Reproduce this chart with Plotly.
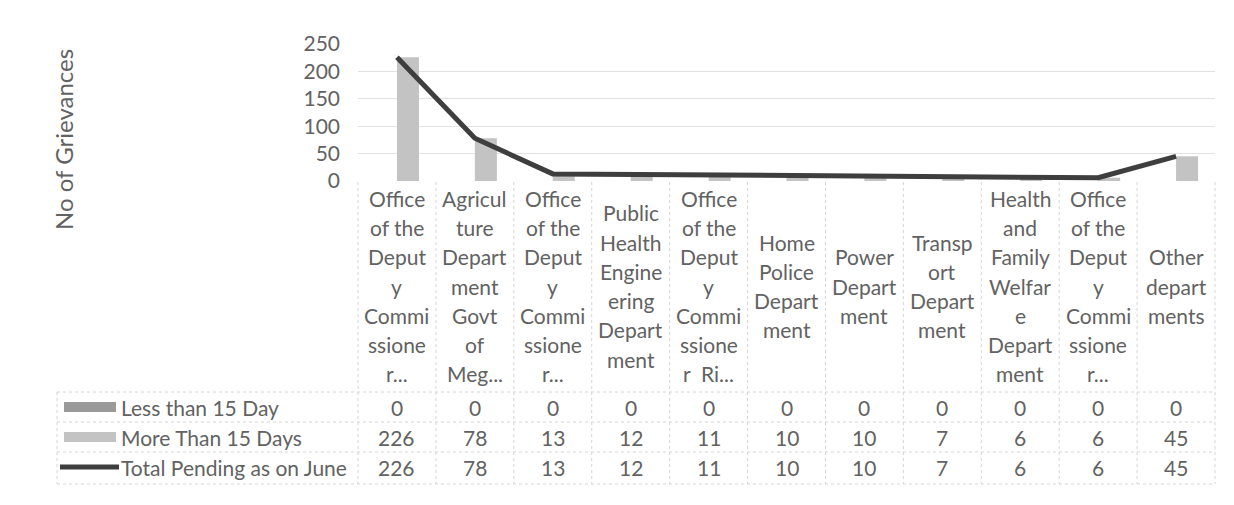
import plotly.graph_objects as go

# ---------------- data ----------------
category_labels = [
    "Office|of the|Deput|y|Commi|ssione|r...",
    "Agricul|ture|Depart|ment|Govt|of|Meg...",
    "Office|of the|Deput|y|Commi|ssione|r...",
    "Public|Health|Engine|ering|Depart|ment",
    "Office|of the|Deput|y|Commi|ssione|r  Ri...",
    "Home|Police|Depart|ment",
    "Power|Depart|ment",
    "Transp|ort|Depart|ment",
    "Health|and|Family|Welfar|e|Depart|ment",
    "Office|of the|Deput|y|Commi|ssione|r...",
    "Other|depart|ments",
]
series_names = ["Less than 15 Day", "More Than 15 Days", "Total Pending as on June"]
less_than_15 = [0, 0, 0, 0, 0, 0, 0, 0, 0, 0, 0]
more_than_15 = [226, 78, 13, 12, 11, 10, 10, 7, 6, 6, 45]
total_pending = [226, 78, 13, 12, 11, 10, 10, 7, 6, 6, 45]
y_ticks = [0, 50, 100, 150, 200, 250]
y_title = "No of Grievances"

# ---------------- layout helpers ----------------
OFF = 8                                      # page body margin
W, H = 1234 - OFF, 505 - OFF
PL, PR, PT, PB = 358, 1215, 44, 181          # plot area in screen pixels
PW, PH = PR - PL, PB - PT
FONT = "Lato"
FS = 21
TXT = "#626262"
GRID = "#e2e2e2"
TBL = "#d4d4d4"


def xp(x):
    return (x - PL) / PW


def yp(y):
    return (PB - y) / PH


n = len(category_labels)
xs = list(range(n))

fig = go.Figure()
fig.add_trace(go.Bar(x=xs, y=less_than_15, name=series_names[0],
                     marker=dict(color="#9a9a9a", line=dict(width=0))))
fig.add_trace(go.Bar(x=xs, y=more_than_15, name=series_names[1],
                     marker=dict(color="#c3c3c3", line=dict(width=0))))
fig.add_trace(go.Scatter(x=xs, y=total_pending, name=series_names[2], mode="lines",
                         line=dict(color="#3e3e3e", width=5)))

annotations = []
shapes = []

# category labels (one annotation per wrapped line)
LINE_H = 29.3
LABEL_CENTER = 286
for i, lab in enumerate(category_labels):
    lines = lab.split("|")
    k = len(lines)
    for j, t in enumerate(lines):
        ypix = LABEL_CENTER + (j - (k - 1) / 2) * LINE_H
        annotations.append(dict(x=i, xref="x", y=yp(ypix), yref="paper", text=t,
                                showarrow=False, xanchor="center", yanchor="middle",
                                font=dict(family=FONT, size=FS, color=TXT)))

# data table rows
row_y = [407, 437, 467]
row_vals = [less_than_15, more_than_15, total_pending]
for r, (ry, vals, nm) in enumerate(zip(row_y, row_vals, series_names)):
    for i, v in enumerate(vals):
        annotations.append(dict(x=i, xref="x", y=yp(ry), yref="paper", text=str(v),
                                showarrow=False, xanchor="center", yanchor="middle",
                                font=dict(family=FONT, size=FS, color=TXT)))
    annotations.append(dict(x=xp(119), xref="paper", y=yp(ry), yref="paper", text=nm,
                            showarrow=False, xanchor="left", yanchor="middle",
                            font=dict(family=FONT, size=FS, color=TXT)))

# legend keys
shapes.append(dict(type="rect", xref="paper", yref="paper", x0=xp(64), x1=xp(116),
                   y0=yp(412), y1=yp(402), fillcolor="#9a9a9a", line=dict(width=0)))
shapes.append(dict(type="rect", xref="paper", yref="paper", x0=xp(64), x1=xp(116),
                   y0=yp(442), y1=yp(432), fillcolor="#c3c3c3", line=dict(width=0)))
shapes.append(dict(type="line", xref="paper", yref="paper", x0=xp(60), x1=xp(119),
                   y0=yp(467), y1=yp(467), line=dict(color="#3e3e3e", width=5)))

# table grid lines
for hy in [392, 422, 452, 484]:
    shapes.append(dict(type="line", xref="paper", yref="paper", x0=xp(57), x1=1,
                       y0=yp(hy), y1=yp(hy), line=dict(color=TBL, width=1, dash="dot")))
for k in range(n + 1):
    shapes.append(dict(type="line", xref="paper", yref="paper", x0=k / n, x1=k / n,
                       y0=yp(182), y1=yp(484), line=dict(color=TBL, width=1, dash="dot")))
shapes.append(dict(type="line", xref="paper", yref="paper", x0=xp(57), x1=xp(57),
                   y0=yp(392), y1=yp(484), line=dict(color=TBL, width=1, dash="dot")))

# y-axis title
annotations.append(dict(x=xp(63), xref="paper", y=yp(140), yref="paper", text=y_title,
                        textangle=-90, showarrow=False, xanchor="center", yanchor="middle",
                        font=dict(family=FONT, size=24, color=TXT)))

fig.update_layout(
    width=W, height=H,
    margin=dict(l=PL - OFF, r=W + OFF - PR, t=PT - OFF, b=H + OFF - PB, pad=0),
    paper_bgcolor="white", plot_bgcolor="white",
    showlegend=False,
    barmode="group", bargap=0.435, bargroupgap=0,
    annotations=annotations, shapes=shapes,
    xaxis=dict(range=[-0.5, n - 0.5], showticklabels=False, showgrid=False,
               zeroline=False, showline=False, ticks=""),
    yaxis=dict(range=[0, 250], tickvals=y_ticks, showgrid=True, gridcolor=GRID,
               gridwidth=1, zeroline=False, showline=False, ticks="",
               ticklabelstandoff=17,
               tickfont=dict(family=FONT, size=FS, color=TXT)),
)

fig.write_html("out.html")
